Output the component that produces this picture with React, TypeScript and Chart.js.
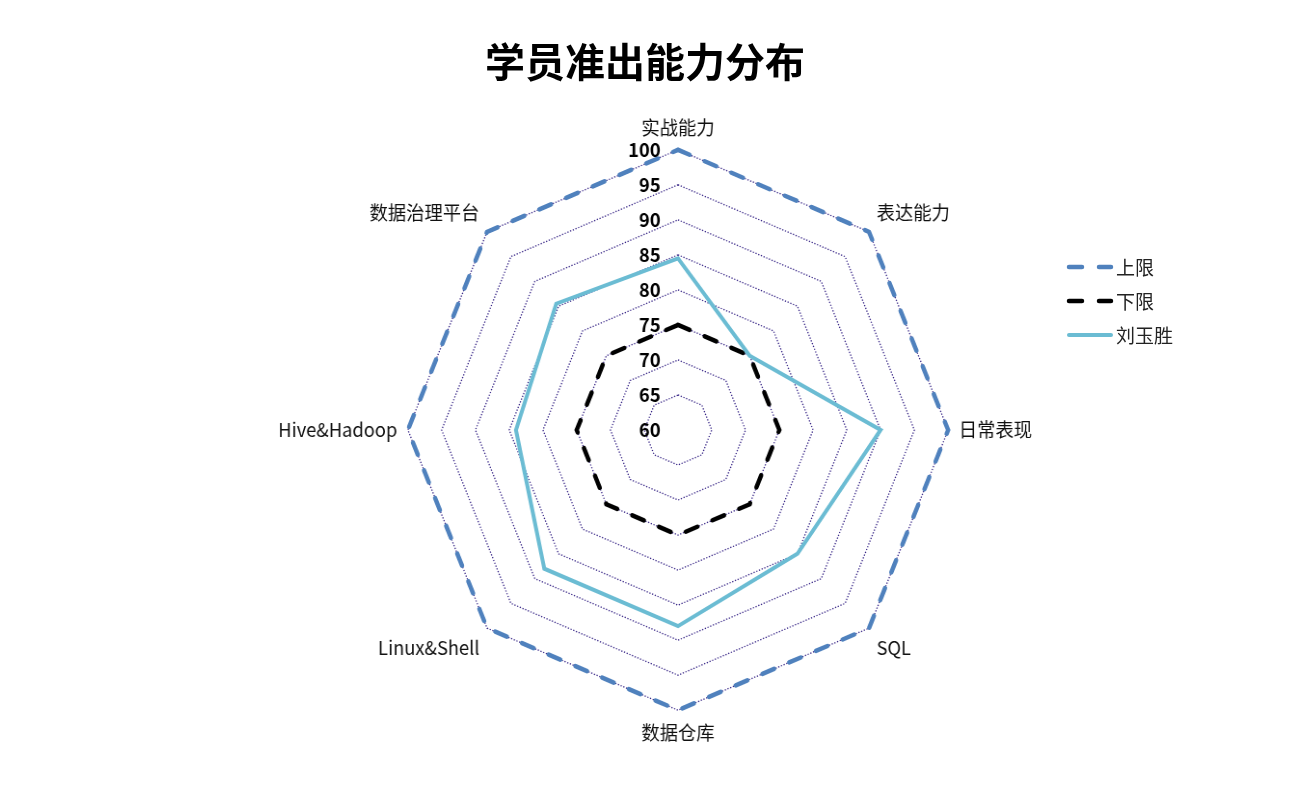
import React, { useEffect, useRef } from "react";
import { Chart, registerables } from "chart.js";

Chart.register(...registerables);

const CATEGORIES = ["实战能力", "表达能力", "日常表现", "SQL", "数据仓库", "Linux&Shell", "Hive&Hadoop", "数据治理平台"];
const UPPER = [100, 100, 100, 100, 100, 100, 100, 100];
const LOWER = [75, 75, 75, 75, 75, 75, 75, 75];
const STUDENT = [84.5, 75, 90, 85, 88, 88, 84, 85.5];
const TICK_VALUES = [60, 65, 70, 75, 80, 85, 90, 95, 100];
const TICK_LABELS = ["60", "65", "70", "75", "80", "85", "90", "95", "100"];
const SERIES_NAMES = ["上限", "下限", "刘玉胜"];

const FONT = '"Noto Sans CJK SC", "Noto Sans", sans-serif';
const BLUE = "#4f81bd";
const BLACK = "#000000";
const CYAN = "#6bbcd3";

const tickLabelPlugin = {
  id: "tickLabelPlugin",
  afterDraw(chart: any) {
    const s = chart.scales.r;
    const ctx = chart.ctx;
    ctx.save();
    ctx.font = `bold 19px ${FONT}`;
    ctx.fillStyle = "#000";
    ctx.textAlign = "right";
    ctx.textBaseline = "middle";
    TICK_VALUES.forEach((v, i) => {
      const d = s.getDistanceFromCenterForValue(v);
      ctx.fillText(TICK_LABELS[i], s.xCenter - 18, s.yCenter - d);
    });
    ctx.restore();
  },
};

function LegendItem({ color, dashed, label, top, width }: any) {
  return (
    <div style={{ position: "absolute", left: 1066, top, height: 34, display: "flex", alignItems: "center" }}>
      <svg width={48} height={10} style={{ display: "block" }}>
        <line
          x1={3}
          y1={5}
          x2={45}
          y2={5}
          stroke={color}
          strokeWidth={width}
          strokeLinecap="round"
          strokeDasharray={dashed ? "13 17" : undefined}
        />
      </svg>
      <span style={{ fontFamily: FONT, fontSize: 19, color: "#222", marginLeft: 2, lineHeight: "34px" }}>{label}</span>
    </div>
  );
}

export default function App() {
  const ref = useRef<HTMLCanvasElement | null>(null);

  useEffect(() => {
    if (!ref.current) return;
    Chart.defaults.font.family = FONT;
    const chart = new Chart(ref.current, {
      type: "radar",
      data: {
        labels: CATEGORIES,
        datasets: [
          {
            label: SERIES_NAMES[0],
            data: UPPER,
            borderColor: BLUE,
            borderWidth: 4.5,
            borderDash: [13, 17],
            borderCapStyle: "round",
            fill: false,
            pointRadius: 0,
            order: 3,
          },
          {
            label: SERIES_NAMES[1],
            data: LOWER,
            borderColor: BLACK,
            borderWidth: 4.5,
            borderDash: [13, 17],
            borderCapStyle: "round",
            fill: false,
            pointRadius: 0,
            order: 2,
          },
          {
            label: SERIES_NAMES[2],
            data: STUDENT,
            borderColor: CYAN,
            borderWidth: 4,
            fill: false,
            pointRadius: 0,
            order: 1,
          },
        ],
      },
      options: {
        responsive: false,
        animation: false,
        layout: { padding: { top: 116, bottom: 66, left: 50, right: 0 } },
        plugins: {
          legend: { display: false },
          tooltip: { enabled: false },
          title: { display: false },
        },
        elements: { line: { tension: 0 } },
        scales: {
          r: {
            min: 60,
            max: 100,
            ticks: { stepSize: 5, display: false },
            angleLines: { display: false },
            grid: { color: "#3a2888", lineWidth: 1.3, circular: false },
            border: { dash: [1.3, 1.7] },
            pointLabels: {
              font: { size: 19, family: FONT },
              color: "#111",
              padding: 11,
            },
          },
        },
      } as any,
      plugins: [tickLabelPlugin],
    });
    return () => chart.destroy();
  }, []);

  return (
    <div style={{ position: "fixed", left: 0, top: 0, width: 1307, height: 810, background: "#fff" }}>
      <canvas
        ref={ref}
        width={1307}
        height={810}
        style={{ position: "absolute", left: 0, top: 0, transform: "scaleX(0.964)", transformOrigin: "678px 430px" }}
      />
      <div
        style={{
          position: "absolute",
          left: 0,
          top: 36,
          width: 1290,
          textAlign: "center",
          fontFamily: FONT,
          fontWeight: 700,
          fontSize: 40,
          lineHeight: "48px",
          color: "#000",
        }}
      >
        学员准出能力分布
      </div>
      <LegendItem color={BLUE} dashed label={SERIES_NAMES[0]} top={250} width={4.5} />
      <LegendItem color={BLACK} dashed label={SERIES_NAMES[1]} top={284} width={4.5} />
      <LegendItem color={CYAN} label={SERIES_NAMES[2]} top={318} width={4} />
    </div>
  );
}
